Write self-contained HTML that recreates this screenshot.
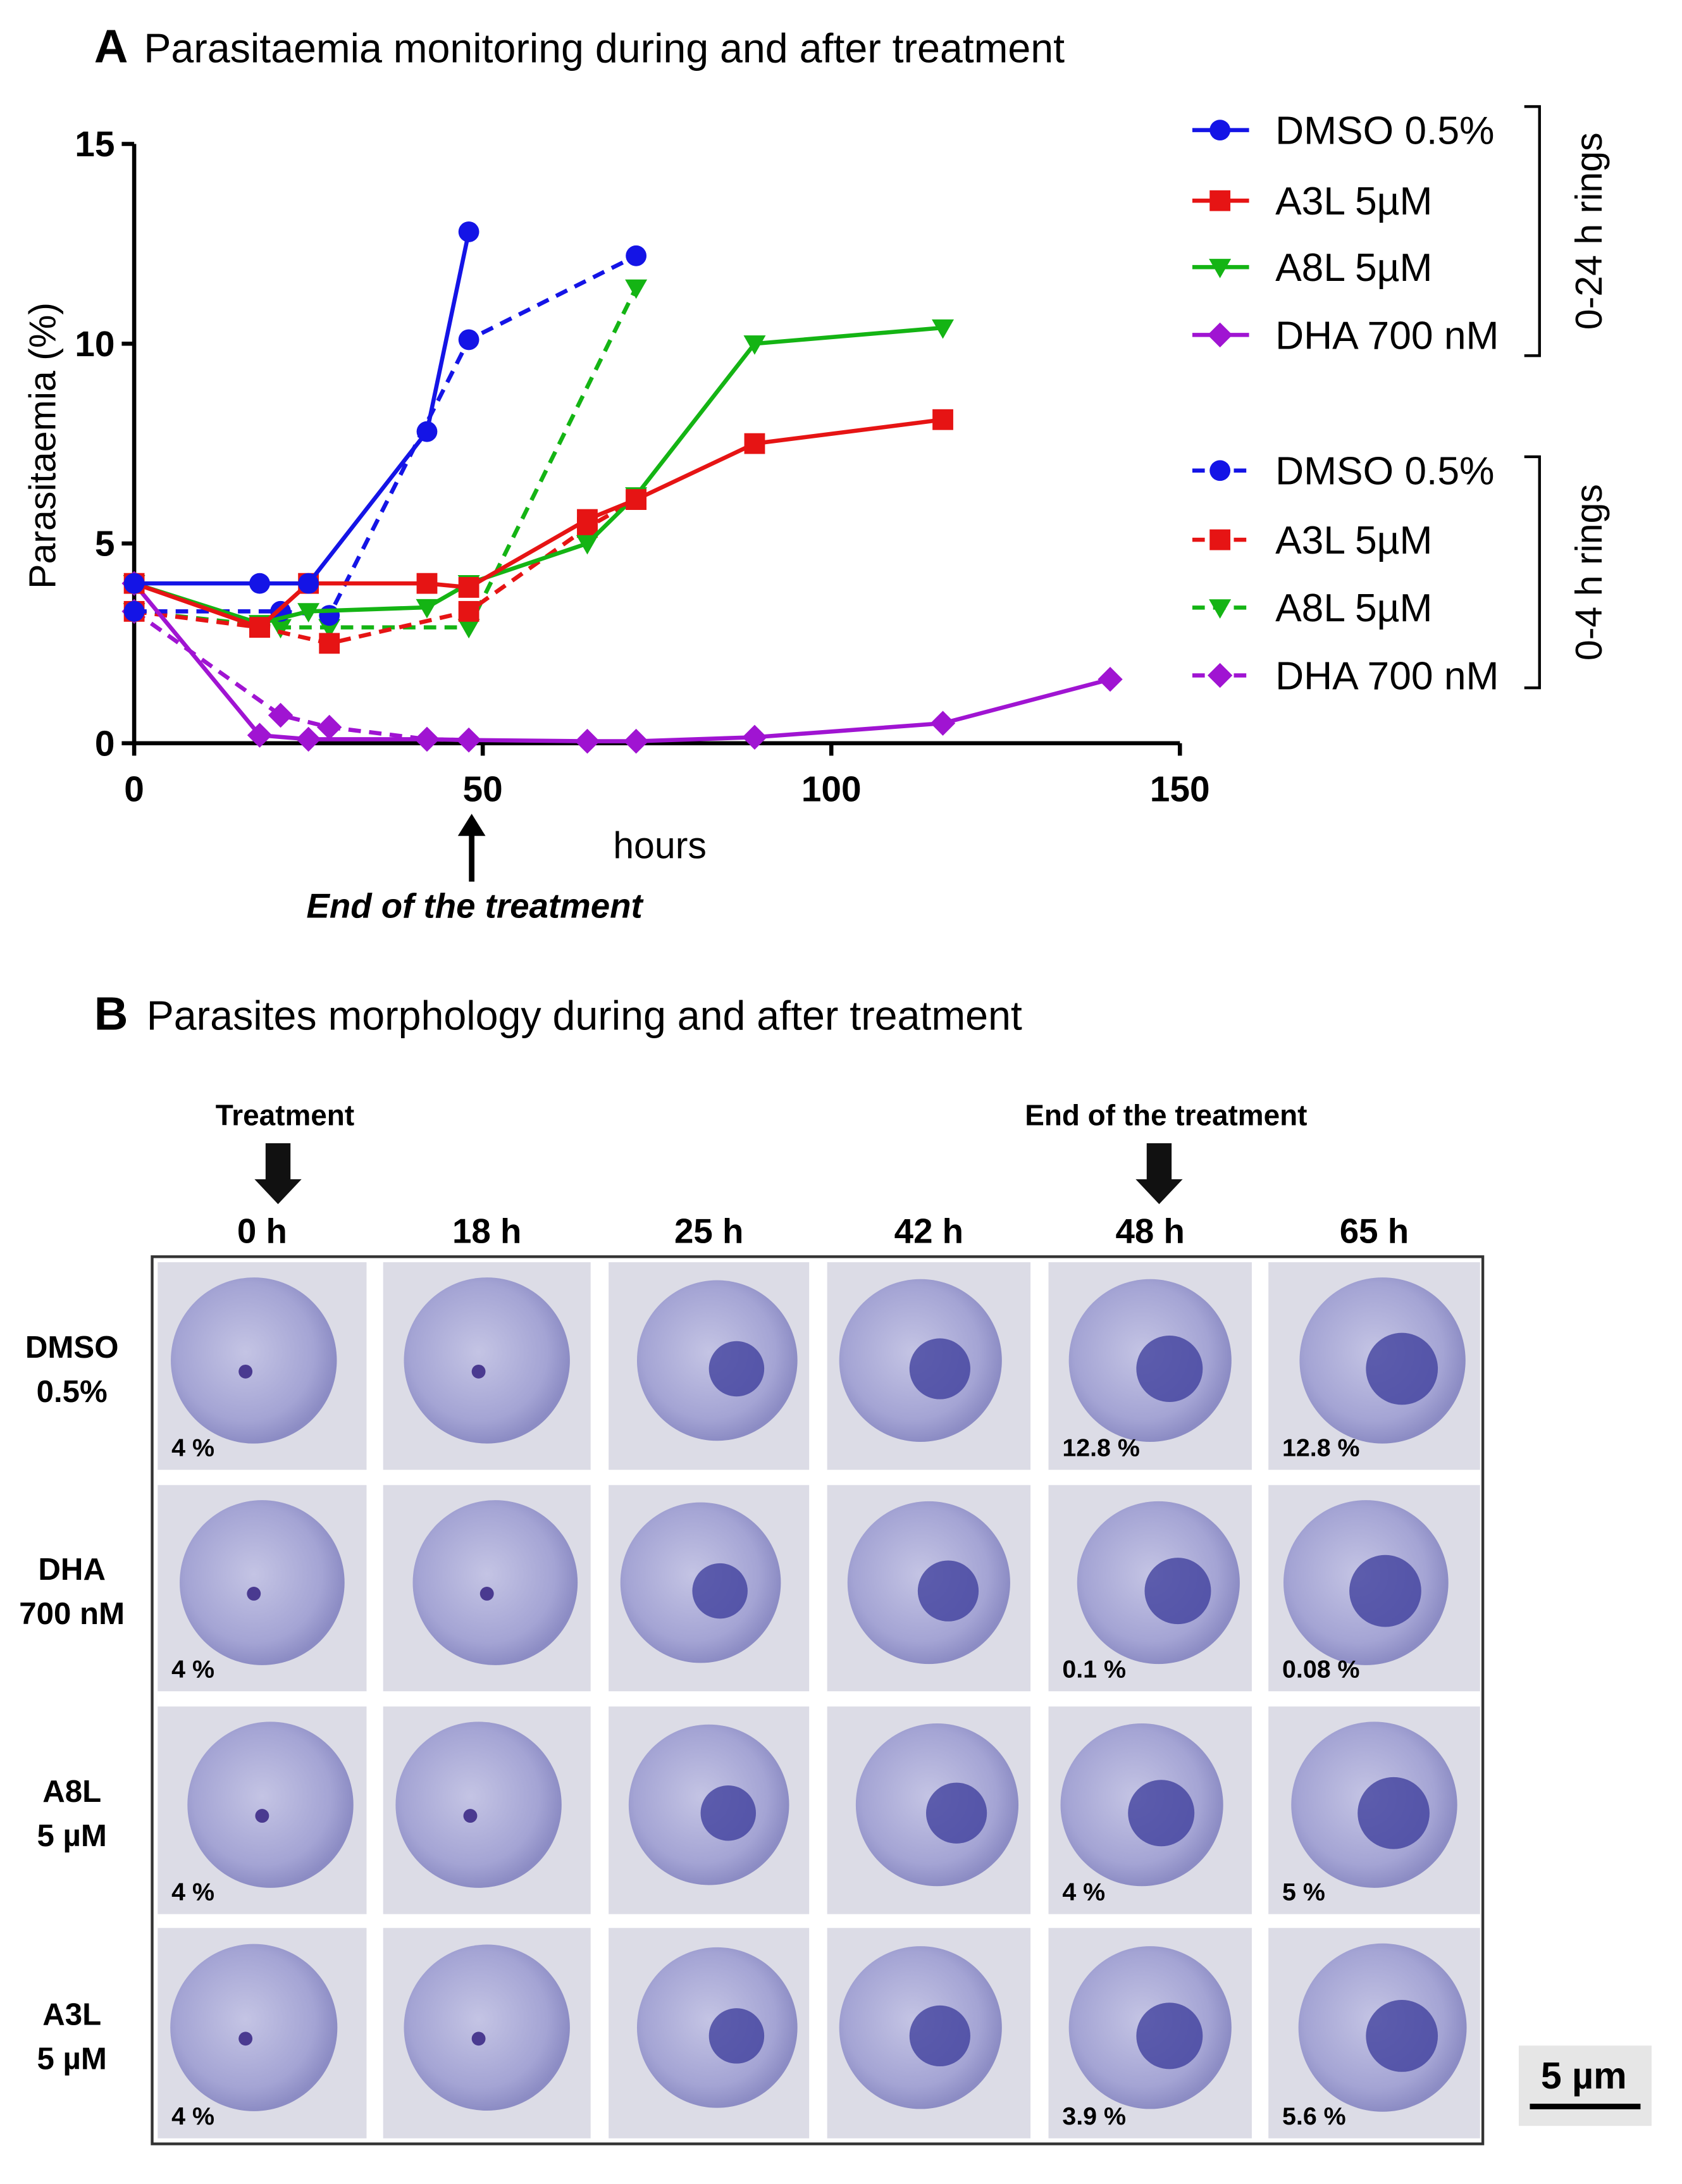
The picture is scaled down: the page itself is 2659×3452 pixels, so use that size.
<!DOCTYPE html>
<html><head><meta charset="utf-8">
<style>
html,body{margin:0;padding:0;background:#fff}
svg{display:block}
text{font-family:"Liberation Sans",sans-serif}
</style></head>
<body>
<svg id="fig" width="2659" height="3452" viewBox="0 0 1216 1578" preserveAspectRatio="none" xmlns="http://www.w3.org/2000/svg">
<rect x="0" y="0" width="1216" height="1578" fill="#fff"/>
<g id="panelA">
<text x="68" y="45" font-size="34" font-weight="bold">A</text>
<text x="104" y="45" font-size="29.5">Parasitaemia monitoring during and after treatment</text>
<text transform="translate(40,322) rotate(-90)" font-size="27" text-anchor="middle">Parasitaemia (%)</text>
<text x="477" y="620" font-size="27" text-anchor="middle">hours</text>
<line x1="341" y1="637" x2="341" y2="600" stroke="#000" stroke-width="4"/>
<polygon points="331,604 351,604 341,588" fill="#000"/>
<text x="343" y="663" font-size="25" font-weight="bold" font-style="italic" text-anchor="middle">End of the treatment</text>
<g id="axes"></g>
<g id="series"></g>
<g id="legend"></g>
</g>
<g id="panelB">
<text x="68" y="744" font-size="34" font-weight="bold">B</text>
<text x="106" y="744" font-size="29.5">Parasites morphology during and after treatment</text>
<text x="206" y="813" font-size="21" font-weight="bold" text-anchor="middle">Treatment</text>
<polygon points="192,826 210,826 210,852 218,852 201,870 184,852 192,852" fill="#111"/>
<text x="843" y="813" font-size="21" font-weight="bold" text-anchor="middle">End of the treatment</text>
<polygon points="829,826 847,826 847,852 855,852 838,870 821,852 829,852" fill="#111"/>
<g id="grid"></g>
<rect x="1098" y="1478" width="96" height="58" fill="#e6e6e6"/>
<text x="1145" y="1509" font-size="27" font-weight="bold" text-anchor="middle">5 µm</text>
<line x1="1106" y1="1522" x2="1186" y2="1522" stroke="#000" stroke-width="4"/>
</g>
</svg>
<script>
const NS="http://www.w3.org/2000/svg";
const xTicks=[0,50,100,150];
const yTicks=[0,5,10,15];
const seriesNames=["DMSO 0.5%","A3L 5µM","A8L 5µM","DHA 700 nM"];
const seriesColors=["#1414e6","#e61414","#14b414","#a014d2"];
const seriesMarkers=["circle","square","tri","diamond"];
// 0-24 h rings (solid)
const dmsoSolidX=[0,18,25,42,48];
const dmsoSolidY=[4,4,4,7.8,12.8];
const a3lSolidX=[0,18,25,42,48,65,72,89,116];
const a3lSolidY=[4,2.9,4,4,3.9,5.6,6.1,7.5,8.1];
const a8lSolidX=[0,18,25,42,48,65,72,89,116];
const a8lSolidY=[4,3,3.3,3.4,4,5,6.2,10,10.4];
const dhaSolidX=[0,18,25,42,48,65,72,89,116,140];
const dhaSolidY=[4,0.2,0.1,0.1,0.08,0.05,0.05,0.15,0.5,1.6];
// 0-4 h rings (dashed)
const dmsoDashX=[0,21,28,48,72];
const dmsoDashY=[3.3,3.3,3.2,10.1,12.2];
const a3lDashX=[0,18,28,48,65,72];
const a3lDashY=[3.3,2.9,2.5,3.3,5.4,6.1];
const a8lDashX=[0,21,28,48,72];
const a8lDashY=[3.3,2.9,2.9,2.9,11.4];
const dhaDashX=[0,21,28,42,48];
const dhaDashY=[3.3,0.7,0.4,0.1,0.08];

const X0=97,X1=853,Y0=537,Y1=104;
const xs=v=>X0+(v/150)*(X1-X0);
const ys=v=>Y0-(v/15)*(Y0-Y1);
function el(tag,attrs,parent){const e=document.createElementNS(NS,tag);for(const k in attrs)e.setAttribute(k,attrs[k]);parent.appendChild(e);return e;}

const axes=document.getElementById('axes');
const xa=el('line',{x1:X0,y1:Y0,x2:X1,y2:Y0,stroke:'#000','stroke-width':3},axes);


const ya=el('line',{x1:X0,y1:Y0,x2:X0,y2:Y1,stroke:'#000','stroke-width':3},axes);


xTicks.forEach(t=>{
  el('line',{x1:xs(t),y1:Y0,x2:xs(t),y2:Y0+9,stroke:'#000','stroke-width':3},axes);
  const tx=el('text',{x:xs(t),y:Y0+42,'font-size':26,'font-weight':'bold','text-anchor':'middle'},axes);
  tx.textContent=t;
  
  
});
yTicks.forEach(t=>{
  el('line',{x1:X0-9,y1:ys(t),x2:X0,y2:ys(t),stroke:'#000','stroke-width':3},axes);
  const tx=el('text',{x:X0-14,y:ys(t)+9,'font-size':26,'font-weight':'bold','text-anchor':'end'},axes);
  tx.textContent=t;
  
  
});

function marker(type,x,y,c,p){
  let m;
  if(type==='circle')m=el('circle',{cx:x,cy:y,r:7.5,fill:c},p);
  else if(type==='square')m=el('rect',{x:x-7.5,y:y-7.5,width:15,height:15,fill:c},p);
  else if(type==='tri')m=el('polygon',{points:`${x-8},${y-6} ${x+8},${y-6} ${x},${y+8}`,fill:c},p);
  else m=el('polygon',{points:`${x},${y-9} ${x+9},${y} ${x},${y+9} ${x-9},${y}`,fill:c},p);
  return m;
}
const sg=document.getElementById('series');
const solid=[[dmsoSolidX,dmsoSolidY],[a3lSolidX,a3lSolidY],[a8lSolidX,a8lSolidY],[dhaSolidX,dhaSolidY]];
const dashed=[[dmsoDashX,dmsoDashY],[a3lDashX,a3lDashY],[a8lDashX,a8lDashY],[dhaDashX,dhaDashY]];
const order=[3,2,1,0];
function drawSet(set,dash,tag){
  order.forEach(i=>{
    const [X,Y]=set[i];const c=seriesColors[i];
    const pts=X.map((v,j)=>xs(v)+','+ys(Y[j])).join(' ');
    const pl=el('polyline',{points:pts,fill:'none',stroke:c,'stroke-width':3,'stroke-dasharray':dash?'9,6':'none'},sg);
    
    
    X.forEach((v,j)=>{
      const m=marker(seriesMarkers[i],xs(v),ys(Y[j]),c,sg);
      
      
    });
  });
}
drawSet(dashed,true,'rings-0-4h');
drawSet(solid,false,'rings-0-24h');

const lg=document.getElementById('legend');
const legY1=[94,145,193,242],legY2=[340,390,439,488];
[[legY1,false],[legY2,true]].forEach(([ly,dash],g)=>{
  seriesNames.forEach((n,i)=>{
    const y=ly[i];
    const ln=el('line',{x1:862,y1:y,x2:903,y2:y,stroke:seriesColors[i],'stroke-width':3,'stroke-dasharray':dash?'9,6':'none'},lg);
    
    
    marker(seriesMarkers[i],882,y,seriesColors[i],lg);
    const t=el('text',{x:922,y:y+10,'font-size':28.5},lg);
    t.textContent=n;
    
    
  });
  const top=g?330:77,bot=g?497:257;
  el('polyline',{points:`1102,${top} 1113,${top} 1113,${bot} 1102,${bot}`,fill:'none',stroke:'#000','stroke-width':2},lg);
  const lt=el('text',{transform:`translate(1158,${(top+bot)/2}) rotate(-90)`,'font-size':27,'text-anchor':'middle'},lg);
  lt.textContent=g?'0-4 h rings':'0-24 h rings';
  
  
});

// Panel B grid
const grid=document.getElementById('grid');
const colX=[[114,265],[277,427],[440,585],[598,745],[758,905],[917,1070]];
const rowY=[[912,1062],[1073,1222],[1233,1383],[1393,1545]];
const colLabels=["0 h","18 h","25 h","42 h","48 h","65 h"];
const rowLabels=[["DMSO","0.5%"],["DHA","700 nM"],["A8L","5 µM"],["A3L","5 µM"]];
const pct=[["4 %","","","","12.8 %","12.8 %"],["4 %","","","","0.1 %","0.08 %"],["4 %","","","","4 %","5 %"],["4 %","","","","3.9 %","5.6 %"]];
const defs=el('defs',{},grid);
const rg=el('radialGradient',{id:'cell',cx:'45%',cy:'45%',r:'55%'},defs);
el('stop',{offset:'0','stop-color':'#c4c4e4'},rg);
el('stop',{offset:'0.75','stop-color':'#a4a4d4'},rg);
el('stop',{offset:'1','stop-color':'#8c8cc4'},rg);
el('rect',{x:110,y:908,width:962,height:641,fill:'#fff',stroke:'#333','stroke-width':2},grid);
colLabels.forEach((c,i)=>{
  const t=el('text',{x:(colX[i][0]+colX[i][1])/2,y:898,'font-size':25,'font-weight':'bold','text-anchor':'middle'},grid);
  t.textContent=c;
  
  
});
rowLabels.forEach((r,j)=>{
  const cy=(rowY[j][0]+rowY[j][1])/2;
  r.forEach((s,k)=>{
    const t=el('text',{x:52,y:cy-6+k*32,'font-size':22.5,'font-weight':'bold','text-anchor':'middle'},grid);
    t.textContent=s;
    
    
  });
  colX.forEach((c,i)=>{
    const g=el('g',{},grid);
    
    
    const w=c[1]-c[0],h=rowY[j][1]-rowY[j][0];
    el('rect',{x:c[0],y:rowY[j][0],width:w,height:h,fill:'#dcdce6'},g);
    const cx=c[0]+w/2+((i+j)%3-1)*6,ccy=rowY[j][0]+h/2-4;
    el('circle',{cx:cx,cy:ccy,r:Math.min(w,h)*0.4,fill:'url(#cell)'},g);
    if(i>=2){el('circle',{cx:cx+14,cy:ccy+6,r:16+i*2,fill:'#3a3a9a',opacity:0.75},g);}
    else{el('circle',{cx:cx-6,cy:ccy+8,r:5,fill:'#4a3a90'},g);}
    if(pct[j][i]){
      const t=el('text',{x:c[0]+10,y:rowY[j][1]-10,'font-size':18,'font-weight':'bold'},g);
      t.textContent=pct[j][i];
      
      
    }
  });
});
</script>
</body></html>
